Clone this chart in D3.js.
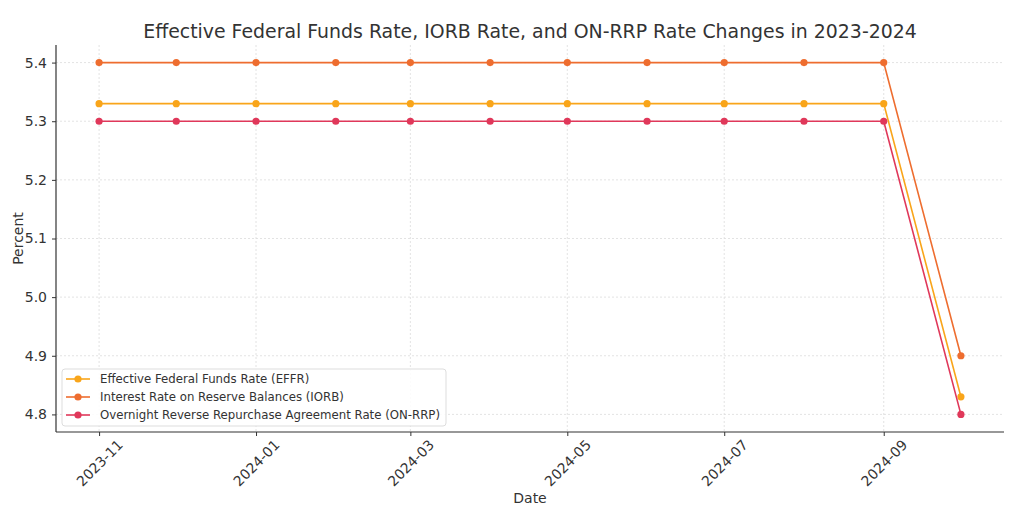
<!DOCTYPE html>
<html><head><meta charset="utf-8">
<script src="https://cdn.jsdelivr.net/npm/d3@7"></script>
<style>body{margin:0;background:#fff}svg{display:block;font-family:"DejaVu Sans",sans-serif}</style>
</head><body><svg id="c" width="1024" height="522"></svg>
<script>
const dates = ["2023-11-01","2023-12-01","2024-01-01","2024-02-01","2024-03-01","2024-04-01","2024-05-01","2024-06-01","2024-07-01","2024-08-01","2024-09-01","2024-10-01"];
const effr = [5.33,5.33,5.33,5.33,5.33,5.33,5.33,5.33,5.33,5.33,5.33,4.83];
const iorb = [5.40,5.40,5.40,5.40,5.40,5.40,5.40,5.40,5.40,5.40,5.40,4.90];
const onrrp = [5.30,5.30,5.30,5.30,5.30,5.30,5.30,5.30,5.30,5.30,5.30,4.80];
const seriesNames = ["Effective Federal Funds Rate (EFFR)","Interest Rate on Reserve Balances (IORB)","Overnight Reverse Repurchase Agreement Rate (ON-RRP)"];
const seriesColors = ["#f9a51a","#ee6d2f","#e0385a"];
const yTicks = [4.8,4.9,5.0,5.1,5.2,5.3,5.4];
const xTickLabels = ["2023-11","2024-01","2024-03","2024-05","2024-07","2024-09"];
const title = "Effective Federal Funds Rate, IORB Rate, and ON-RRP Rate Changes in 2023-2024";

const parse = d3.utcParse("%Y-%m-%d");
const pm = d3.utcParse("%Y-%m");
const X = dates.map(parse);
const svg = d3.select("#c");
const L=56,R=1004,T=45,B=432;
const x0=X[0], x1=X[X.length-1], span=x1-x0;
const x = d3.scaleUtc().domain([new Date(+x0-span*0.05), new Date(+x1+span*0.05)]).range([L,R]);
const y = d3.scaleLinear().domain([4.77,5.43]).range([B,T]);

// grid
const g = svg.append("g");
g.selectAll(".gy").data(yTicks).join("line").attr("x1",L).attr("x2",R).attr("y1",d=>y(d)).attr("y2",d=>y(d))
 .attr("stroke","#dcdcdc").attr("stroke-width",0.8).attr("stroke-dasharray","2,2");
g.selectAll(".gx").data(xTickLabels.map(pm)).join("line").attr("y1",T).attr("y2",B).attr("x1",d=>x(d)).attr("x2",d=>x(d))
 .attr("stroke","#dcdcdc").attr("stroke-width",0.8).attr("stroke-dasharray","2,2");

// axes
const ya = svg.append("g").attr("transform",`translate(${L},0)`)
 .call(d3.axisLeft(y).tickValues(yTicks).tickFormat(d3.format(".1f")).tickSize(4).tickPadding(5));
const xa = svg.append("g").attr("transform",`translate(0,${B})`)
 .call(d3.axisBottom(x).tickValues(xTickLabels.map(pm)).tickFormat(d3.utcFormat("%Y-%m")).tickSize(4).tickPadding(4));
[ya,xa].forEach(a=>{a.select(".domain").attr("stroke","#333").attr("stroke-width",1.2);
 a.selectAll(".tick line").attr("stroke","#333");
 a.selectAll("text").attr("fill","#333").style("font-size","14px").style("font-family","DejaVu Sans");});
xa.select(".domain").attr("d",`M${L},0H${R}`);
ya.select(".domain").attr("d",`M0,${B}V${T}`);
xa.selectAll(".tick text").attr("text-anchor","middle").attr("y",0).attr("dy","0.35em")
 .attr("transform","translate(0,31) rotate(-45)");

// lines
const allSeries=[effr,iorb,onrrp];
const line = d3.line().x((d,i)=>x(X[i])).y(d=>y(d));
allSeries.forEach((s,k)=>{
 svg.append("path").datum(s).attr("d",line).attr("fill","none").attr("stroke",seriesColors[k]).attr("stroke-width",1.6);
 svg.append("g").selectAll("circle").data(s).join("circle").attr("cx",(d,i)=>x(X[i])).attr("cy",d=>y(d)).attr("r",3.6).attr("fill",seriesColors[k]);
});

// titles
svg.append("text").attr("x",(L+R)/2).attr("y",38).attr("text-anchor","middle").style("font-size","18.9px").attr("fill","#333").text(title);
svg.append("text").attr("x",(L+R)/2).attr("y",503).attr("text-anchor","middle").style("font-size","14px").attr("fill","#333").text("Date");
svg.append("text").attr("transform",`translate(23,${(T+B)/2}) rotate(-90)`).attr("text-anchor","middle").style("font-size","14px").attr("fill","#333").text("Percent");

// legend
const lg = svg.append("g");
lg.append("rect").attr("x",62).attr("y",369).attr("width",384).attr("height",57).attr("rx",3)
 .attr("fill","rgba(255,255,255,0.85)").attr("stroke","#ddd");
seriesNames.forEach((n,k)=>{
 const yy=379+k*18;
 lg.append("line").attr("x1",66).attr("x2",90).attr("y1",yy).attr("y2",yy).attr("stroke",seriesColors[k]).attr("stroke-width",1.6);
 lg.append("circle").attr("cx",78).attr("cy",yy).attr("r",3.6).attr("fill",seriesColors[k]);
 lg.append("text").attr("x",100).attr("y",yy).attr("dy","0.35em").style("font-size","11.75px").attr("fill","#333").text(n);
});
</script></body></html>
